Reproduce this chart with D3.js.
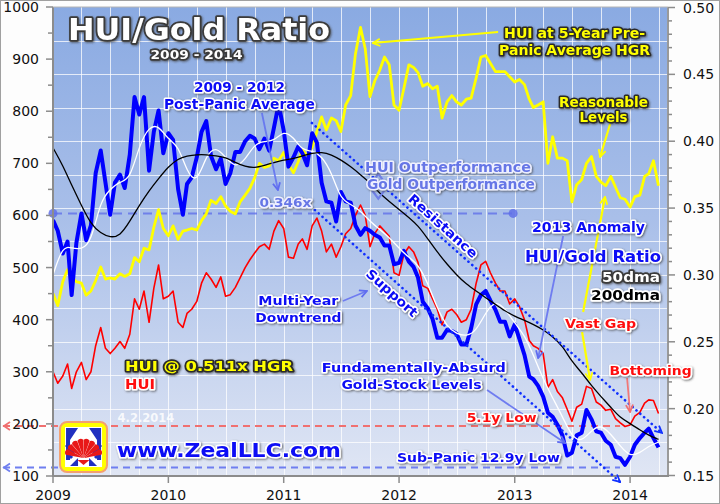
<!DOCTYPE html>
<html><head><meta charset="utf-8">
<script src="https://cdn.jsdelivr.net/npm/d3@7/dist/d3.min.js"></script>
<style>
body{margin:0;background:#fff}
svg{display:block}
text{font-family:"DejaVu Sans",Verdana,sans-serif}
</style></head>
<body><svg id="c" width="720" height="504"></svg>
<script>
// ---------------- DATA ----------------
// semi-monthly observations: 1st and 16th of each month, Jan 1 2009 .. Apr 1 2014
const hui = [300,278,292,315,268,300,318,285,300,350,385,345,335,345,358,345,372,440,420,455,395,460,505,440,
445,455,395,385,412,420,435,470,490,478,462,482,445,448,462,480,500,515,528,540,545,535,570,590,
575,520,518,545,555,535,580,595,570,530,545,520,540,565,575,600,620,600,540,565,580,570,560,490,
485,525,540,530,510,465,460,440,420,390,415,420,410,395,400,420,470,505,512,490,470,455,455,430,
440,425,400,360,350,345,335,270,285,262,250,228,205,232,238,272,268,242,236,226,228,210,202,195,
198,215,222,240,246,245,220];
// HUI at 0.511x gold (left axis units)
const huiAtHgr = [450,427,473,496,480,473,470,447,455,475,501,478,480,478,488,483,488,519,511,537,534,577,611,575,
561,580,554,570,572,575,572,590,603,629,623,636,618,608,603,626,639,652,672,700,692,695,710,705,
721,698,682,703,726,715,731,761,789,764,787,782,761,812,830,910,961,920,828,858,879,904,889,812,
802,843,889,884,874,848,853,843,848,787,818,830,818,812,823,825,864,904,907,892,876,876,876,866,
856,861,851,823,807,812,818,700,751,710,710,705,626,659,669,700,713,675,664,657,675,654,634,631,
616,636,639,675,680,705,657];
// HUI/Gold ratio (right axis)
const ratio = [0.341,0.333,0.316,0.325,0.285,0.324,0.346,0.326,0.337,0.376,0.393,0.369,0.345,0.369,0.375,0.365,0.390,0.433,0.420,0.433,0.378,0.407,0.423,0.391,
0.406,0.401,0.364,0.345,0.368,0.373,0.388,0.407,0.415,0.389,0.379,0.387,0.368,0.376,0.392,0.392,0.400,0.404,0.402,0.394,0.402,0.393,0.410,0.428,
0.408,0.381,0.388,0.396,0.391,0.382,0.406,0.399,0.369,0.355,0.354,0.340,0.362,0.355,0.354,0.337,0.330,0.335,0.333,0.330,0.328,0.322,0.322,0.308,
0.309,0.318,0.310,0.306,0.298,0.280,0.275,0.267,0.253,0.253,0.259,0.258,0.256,0.248,0.248,0.260,0.278,0.285,0.288,0.281,0.274,0.265,0.265,0.254,
0.263,0.252,0.240,0.224,0.222,0.217,0.209,0.197,0.194,0.188,0.180,0.165,0.167,0.180,0.182,0.199,0.192,0.183,0.182,0.176,0.173,0.164,0.163,0.158,
0.164,0.173,0.178,0.182,0.185,0.178,0.171];
// monthly (1st of month) moving averages of the ratio
const ratio50dma = [0.300,0.322,0.320,0.319,0.324,0.356,0.364,0.370,0.371,0.397,0.411,0.412,
0.401,0.397,0.377,0.368,0.390,0.396,0.388,0.380,0.386,0.398,0.400,0.400,
0.408,0.403,0.393,0.393,0.389,0.377,0.356,0.353,0.348,0.340,0.334,0.328,
0.320,0.313,0.308,0.294,0.275,0.261,0.256,0.254,0.258,0.272,0.281,0.275,
0.264,0.255,0.240,0.222,0.208,0.194,0.179,0.175,0.184,0.188,0.181,0.172,
0.164,0.167,0.172,0.175];
const ratio200dma = [0.395,0.382,0.367,0.352,0.338,0.331,0.328,0.329,0.340,0.352,0.363,0.372,
0.381,0.387,0.389,0.390,0.390,0.389,0.388,0.384,0.381,0.380,0.382,0.384,
0.386,0.387,0.389,0.391,0.392,0.390,0.386,0.381,0.375,0.369,0.361,0.355,
0.349,0.343,0.337,0.327,0.317,0.308,0.300,0.293,0.288,0.283,0.278,0.273,
0.269,0.266,0.263,0.259,0.254,0.247,0.235,0.227,0.217,0.209,0.201,0.193,
0.189,0.184,0.180,0.177];
const yearTicks = ["2009","2010","2011","2012","2013","2014"];
const leftTicks = [100,200,300,400,500,600,700,800,900,1000];
const rightTicks = [0.15,0.20,0.25,0.30,0.35,0.40,0.45,0.50];
const postPanicAvg = 0.346, subPanicLow = 0.156, huiLow = 196;

// ---------------- SETUP ----------------
const dates = [], monthDates = [];
for (let m = 0; m <= 63; m++) {
  dates.push(new Date(2009, m, 1)); monthDates.push(new Date(2009, m, 1));
  if (m < 63) dates.push(new Date(2009, m, 16));
}
const svg = d3.select('#c');
const L = 53, R = 668, T = 7, B = 476;
const x = d3.scaleTime().domain([new Date(2009,0,1), new Date(2014,4,1)]).range([L, R]);
const yL = d3.scaleLinear().domain([100,1000]).range([B, T]);
const yR = d3.scaleLinear().domain([0.15,0.50]).range([475.5, 7.5]);
const yrDate = d => { const y = Math.floor(d); const s = new Date(y,0,1), e = new Date(y+1,0,1); return new Date(+s + (d-y)*(e-s)); };
const P = (t, v) => [x(yrDate(t)), yL(v)];
const PR = (t, r) => [x(yrDate(t)), yR(r)];

const defs = svg.append('defs');
const grad = defs.append('linearGradient').attr('id','bg').attr('x1',0).attr('y1',0).attr('x2',0).attr('y2',1);
[[0,'#8aaae2'],[0.45,'#a9bfe9'],[1,'#e0e6f4']].forEach(([o,c]) => grad.append('stop').attr('offset',o).attr('stop-color',c));
defs.append('clipPath').attr('id','clip').append('rect').attr('x',L).attr('y',T).attr('width',R-L).attr('height',B-T);
const sh = defs.append('filter').attr('id','sh').attr('x','-10%').attr('y','-40%').attr('width','120%').attr('height','180%');
sh.append('feGaussianBlur').attr('in','SourceAlpha').attr('stdDeviation',1.3).attr('result','b');
sh.append('feOffset').attr('in','b').attr('dx',1).attr('dy',1).attr('result','o');
sh.append('feFlood').attr('flood-color','#404040').attr('flood-opacity',0.75);
sh.append('feComposite').attr('in2','o').attr('operator','in');
const mg = sh.append('feMerge'); mg.append('feMergeNode'); mg.append('feMergeNode').attr('in','SourceGraphic');

function marker(id, color) {
  defs.append('marker').attr('id', id).attr('viewBox','0 0 10 10').attr('refX',9).attr('refY',5)
    .attr('markerWidth',9).attr('markerHeight',9).attr('markerUnits','userSpaceOnUse').attr('orient','auto')
    .append('path').attr('d','M1,1L9,5L1,9').attr('fill','none').attr('stroke',color).attr('stroke-width',2);
}
marker('mBlue','#5f6cf0'); marker('mYel','#ffff00'); marker('mPink','#f07070'); marker('mDot','#1030ff');

// frame
svg.append('rect').attr('x',0.5).attr('y',0.5).attr('width',719).attr('height',503).attr('fill','#fdfdfd').attr('stroke','#a0a0a0');
svg.append('rect').attr('x',L).attr('y',T).attr('width',R-L).attr('height',B-T).attr('fill','url(#bg)');

// grid
const gg = svg.append('g').attr('stroke','#ffffff').attr('stroke-opacity',0.75).attr('stroke-width',1);
d3.timeMonth.every(3).range(new Date(2009,3,1), new Date(2014,4,1)).forEach(d => {
  gg.append('line').attr('x1',Math.round(x(d))+0.5).attr('x2',Math.round(x(d))+0.5).attr('y1',T).attr('y2',B);
});
d3.range(0.175, 0.5, 0.025).forEach(r => {
  gg.append('line').attr('x1',L).attr('x2',R).attr('y1',Math.round(yR(r))+0.5).attr('y2',Math.round(yR(r))+0.5);
});

// reference dashed lines
const ref = svg.append('g');
ref.append('line').attr('x1',3).attr('x2',x(yrDate(2013.913))).attr('y1',yL(huiLow)).attr('y2',yL(huiLow))
  .attr('stroke','#f07070').attr('stroke-width',2).attr('stroke-dasharray','7,5');
ref.append('line').attr('x1',3).attr('x2',x(yrDate(2013.913))).attr('y1',yR(subPanicLow)).attr('y2',yR(subPanicLow))
  .attr('stroke','#6f7ff0').attr('stroke-width',2).attr('stroke-dasharray','7,5');
[[yL(huiLow),'#f07070'],[yR(subPanicLow),'#6f7ff0']].forEach(([yy,c]) => {
  ref.append('path').attr('d',`M10,${yy-4}L4,${yy}L10,${yy+4}`).attr('fill','none').attr('stroke',c).attr('stroke-width',1.8);
});
const pa = [PR(2009.0, postPanicAvg), PR(2012.986, postPanicAvg)];
ref.append('line').attr('x1',pa[0][0]).attr('x2',pa[1][0]).attr('y1',pa[0][1]).attr('y2',pa[1][1])
  .attr('stroke','#6070e8').attr('stroke-opacity',0.8).attr('stroke-width',2).attr('stroke-dasharray','9,6');
pa.forEach(p => ref.append('circle').attr('cx',p[0]).attr('cy',p[1]).attr('r',4.5).attr('fill','#6070e8').attr('fill-opacity',0.85));

// data lines
const dl = svg.append('g').attr('clip-path','url(#clip)');
const lineL = d3.line().x((d,i) => x(dates[i])).y(d => yL(d));
const lineR = d3.line().x((d,i) => x(dates[i])).y(d => yR(d));
const lineM = d3.line().x((d,i) => x(monthDates[i])).y(d => yR(d)).curve(d3.curveBasis);
dl.append('path').attr('d', lineL(huiAtHgr)).attr('fill','none').attr('stroke','#ffff00').attr('stroke-width',2.8).attr('stroke-linejoin','round');
dl.append('path').attr('d', lineL(hui)).attr('fill','none').attr('stroke','#ff0000').attr('stroke-width',1.6).attr('stroke-linejoin','round');
dl.append('path').attr('d', lineR(ratio)).attr('fill','none').attr('stroke','#0000ff').attr('stroke-width',4).attr('stroke-linejoin','round');
dl.append('path').attr('d', lineM(ratio50dma)).attr('fill','none').attr('stroke','#ffffff').attr('stroke-width',1.3);
dl.append('path').attr('d', lineM(ratio200dma)).attr('fill','none').attr('stroke','#000000').attr('stroke-width',1.3);

// axes
const ax = svg.append('g').attr('fill','#111').style('font-size','14px');
svg.append('line').attr('x1',L).attr('x2',L).attr('y1',T).attr('y2',B+1).attr('stroke','#8c8c8c').attr('stroke-width',2);
svg.append('line').attr('x1',R).attr('x2',R).attr('y1',T).attr('y2',B+1).attr('stroke','#9a9a9a').attr('stroke-width',2);
svg.append('line').attr('x1',L-1).attr('x2',R+1).attr('y1',B).attr('y2',B).attr('stroke','#8c8c8c').attr('stroke-width',2);
svg.append('line').attr('x1',L).attr('x2',R).attr('y1',T).attr('y2',T).attr('stroke','#b4b4b4').attr('stroke-width',1);
d3.range(100, 1001, 50).forEach(v => {
  const major = v % 100 === 0;
  svg.append('line').attr('x1', L - (major ? 7 : 5)).attr('x2', L).attr('y1', yL(v)).attr('y2', yL(v)).attr('stroke','#8c8c8c').attr('stroke-width',1.5);
});
leftTicks.forEach(v => ax.append('text').attr('x',39).attr('y',yL(v)+5).attr('text-anchor','end').text(v));
d3.range(15, 51, 1).forEach(k => {
  const r = k / 100, major = k % 5 === 0;
  svg.append('line').attr('x1', R).attr('x2', R + (major ? 7 : 4)).attr('y1', yR(r)).attr('y2', yR(r)).attr('stroke','#8c8c8c').attr('stroke-width',1.5);
});
rightTicks.forEach(r => ax.append('text').attr('x',683).attr('y',yR(r)+5).text(d3.format('.2f')(r)));
yearTicks.forEach(s => {
  const xx = x(new Date(+s,0,1));
  svg.append('line').attr('x1',xx).attr('x2',xx).attr('y1',B).attr('y2',B+7).attr('stroke','#8c8c8c').attr('stroke-width',1.5);
  ax.append('text').attr('x',xx).attr('y',500).attr('text-anchor','middle').text(s);
});

// ---------------- ANNOTATIONS ----------------
const an = svg.append('g');
function arrow(a, b, color, mk, w, dash) {
  const l = an.append('line').attr('x1',a[0]).attr('y1',a[1]).attr('x2',b[0]).attr('y2',b[1])
    .attr('stroke',color).attr('stroke-width',w || 2).attr('marker-end',`url(#${mk})`);
  if (dash) l.attr('stroke-dasharray',dash).attr('stroke-linecap','round');
  return l;
}
// dotted resistance / support channel
arrow(P(2011.244,777.4), P(2014.277,182.5), '#1030ff', 'mDot', 2.6, '0.1,5');
arrow(P(2011.27,610.4), P(2013.913,88.5), '#1030ff', 'mDot', 2.6, '0.1,5');
// pointer arrows
arrow(P(2010.811,796.6), P(2010.95,648.8), '#6070f0', 'mBlue', 1.8).attr('stroke-opacity',0.85);
arrow(P(2012.856,952), P(2011.773,930.9), '#ffff00', 'mYel', 2.2);
arrow(P(2013.827,775.5), P(2013.74,712.2), '#ffff00', 'mYel', 2.2);
arrow(P(2013.42,560.6), P(2013.203,326.4), '#6f7cf0', 'mBlue', 1.8);
arrow(P(2013.593,414.7), P(2013.783,635.4), '#ffff00', 'mYel', 2.2);
arrow(P(2013.584,376.3), P(2013.653,284.2), '#ffff00', 'mYel', 2.2);
arrow(P(2013.974,288.1), P(2014.0,222.8), '#f07878', 'mPink', 1.8);
arrow(P(2012.761,265), P(2013.437,163.3), '#6f7cf0', 'mBlue', 1.8);
arrow(P(2011.513,435.8), P(2011.721,455), '#6f7cf0', 'mBlue', 1.6);
// small chevrons between outperformance labels
[[2011.82, 672, -1],[2011.82, 640, 1]].forEach(([t,v,dir]) => {
  const p = P(t, v);
  an.append('path').attr('d',`M${p[0]-6},${p[1]-4*dir}L${p[0]},${p[1]+4*dir}L${p[0]+6},${p[1]-4*dir}`)
    .attr('fill','none').attr('stroke','#7080e8').attr('stroke-width',2.2);
});

const styles = {
  blue:   {fill:'#0a0af5', stroke:'#ffffff', sw:3.2},
  lblue:  {fill:'#6676e6', stroke:'#eef0ff', sw:3.2},
  red:    {fill:'#ff1010', stroke:'#ffffff', sw:3.2},
  yellow: {fill:'#ffff00', stroke:'#2a2a2a', sw:3.2},
  white:  {fill:'#ffffff', stroke:'#3a3a3a', sw:3.4},
  black:  {fill:'#000000', stroke:'#ffffff', sw:3.4}
};
function label(txt, p, st, size, len, opts) {
  opts = opts || {};
  const s = styles[st];
  const g = an.append('g').attr('filter', opts.noShadow ? null : 'url(#sh)');
  const t = g.append('text').attr('x', p[0]).attr('y', p[1])
    .attr('text-anchor', opts.anchor || 'middle').style('font-size', size + 'px').style('font-weight', 'bold')
    .attr('fill', s.fill).attr('stroke', s.stroke).attr('stroke-width', s.sw).attr('stroke-linejoin','round')
    .style('paint-order','stroke').text(txt);
  if (len) t.attr('textLength', len).attr('lengthAdjust', 'spacingAndGlyphs');
  if (opts.rotate) t.attr('dominant-baseline','central').attr('transform', `rotate(${opts.rotate},${p[0]},${p[1]})`);
  return t;
}
// title block (layout)
label('HUI/Gold Ratio', [199, 40], 'white', 30, 262);
label('2009 - 2014', [196.5, 59], 'white', 12.5, 92);

label('2009 - 2012', P(2010.616,836.9), 'blue', 14, 91);
label('Post-Panic Average', P(2010.616,804.3), 'blue', 14, 151);
label('0.346x', P(2011.015,616.2), 'lblue', 13, 52);
label('HUI Outperformance', P(2012.423,683.4), 'lblue', 13.5, 166);
label('Gold Outperformance', P(2012.449,650.7), 'lblue', 13.5, 168);
label('Resistance', P(2012.38,579.7), 'blue', 13, 88, {rotate:42});
label('Support', P(2011.938,451.2), 'blue', 13, 64, {rotate:42});
label('Multi-Year', P(2011.127,428.1), 'blue', 13, 80);
label('Downtrend', P(2011.127,395.5), 'blue', 13, 86);
label('2013 Anomaly', P(2013.64,568.2), 'blue', 13.5, 113);
label('HUI/Gold Ratio', P(2013.679,510.6), 'blue', 16, 136);
label('50dma', P(2014.26,472.3), 'white', 14, 58, {anchor:'end'});
label('200dma', P(2014.26,437.7), 'black', 14, 69, {anchor:'end'});
label('Vast Gap', P(2013.744,384), 'red', 13, 71);
label('Reasonable', P(2013.77,808.1), 'yellow', 13.5, 89);
label('Levels', P(2013.77,779.3), 'yellow', 13.5, 48);
label('HUI at 5-Year Pre-', P(2013.519,940.5), 'yellow', 13.5, 141);
label('Panic Average HGR', P(2013.519,907.9), 'yellow', 13.5, 151);
label('Bottoming', P(2014.178,293.8), 'red', 13, 82);
label('5.1y Low', P(2012.887,203.6), 'red', 13, 70);
label('Sub-Panic 12.9y Low', P(2012.687,126.9), 'blue', 13, 163);
label('Fundamentally-Absurd', P(2012.128,299.6), 'blue', 13, 184);
label('Gold-Stock Levels', P(2012.107,266.9), 'blue', 13, 140);
label('HUI @ 0.511x HGR', P(2010.352,301.5), 'yellow', 14, 168);
label('HUI', P(2009.624,266.9), 'red', 14, 30, {anchor:'start'});
an.append('text').attr('x', P(2009.806,203.6)[0]).attr('y', P(2009.806,203.6)[1]).attr('text-anchor','middle')
  .style('font-size','11.5px').style('font-weight','bold').attr('fill','#ffffff').attr('fill-opacity',0.85).text('4.2.2014');
label('www.ZealLLC.com', P(2010.525,136.5), 'blue', 20, 224);

// logo
const lo = P(2009.061, 203.6);
const lg = an.append('g').attr('transform', `translate(${lo[0]},${lo[1]})`);
lg.append('rect').attr('x',0).attr('y',0).attr('width',47).attr('height',50).attr('rx',7).attr('fill','#ffff00').attr('stroke','#f4a070').attr('stroke-width',2);
lg.append('rect').attr('x',5).attr('y',5).attr('width',37).attr('height',40).attr('fill','#ffffff');
lg.append('path').attr('d','M6,6H18L10,18V38H6Z M41,6H29L37,18V38H41Z M6,44H18V36L10,44Z M41,44H29V36L37,44Z M8,6L18,6L8,20Z').attr('fill','#2030c0');
lg.append('path').attr('d','M6,23L14,31M6,30L12,36M41,23L33,31M41,30L35,36').attr('stroke','#2030c0').attr('stroke-width',3);
const fan = lg.append('g').attr('transform','translate(23.5,36)');
d3.range(-70, 71, 20).forEach(a => {
  fan.append('path').attr('d','M0,0L-3,-18Q0,-21 3,-18Z').attr('fill','#e81818').attr('transform',`rotate(${a})`);
});
fan.append('path').attr('d','M-6,2H6L0,7Z').attr('fill','#e81818');
</script></body></html>
